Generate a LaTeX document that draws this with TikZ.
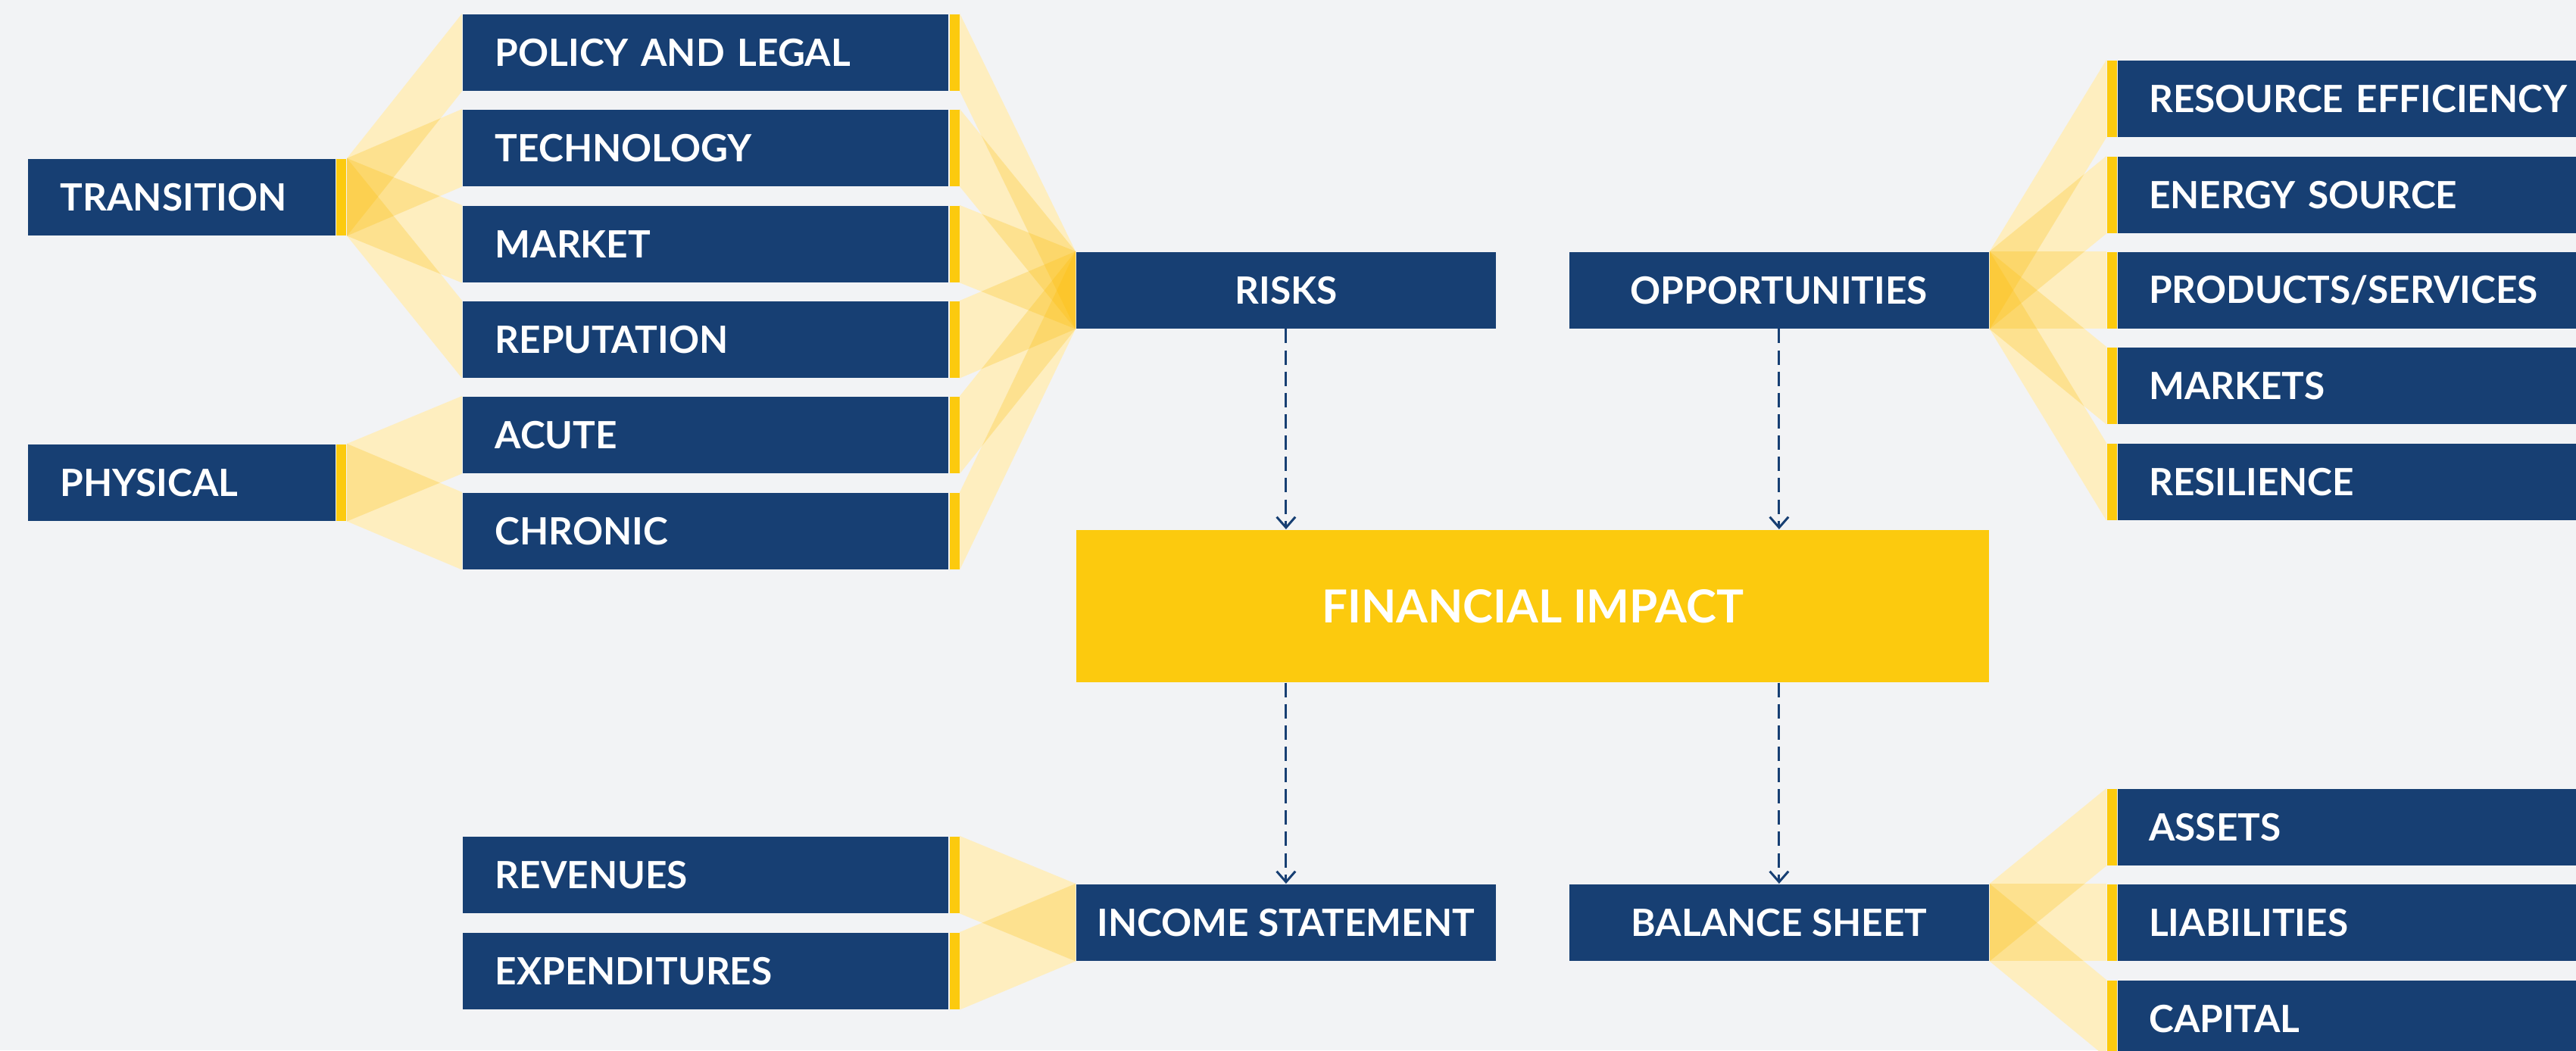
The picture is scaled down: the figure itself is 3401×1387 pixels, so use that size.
\documentclass[tikz,border=0pt]{standalone}
\usepackage{fontspec}
\setmainfont{Lato}
\usetikzlibrary{arrows.meta}
\definecolor{navy}{RGB}{23,63,115}
\definecolor{gold}{RGB}{252,202,14}
\definecolor{paper}{RGB}{242,243,245}
\definecolor{amber}{RGB}{252,188,0}

\begin{document}
\begin{tikzpicture}[x=0.01cm,y=-0.01cm,
  box/.style={fill=navy, text=white, font=\bfseries\fontsize{14.1}{17}\selectfont,
    inner ysep=0pt, minimum height=1.01cm, anchor=north west},
  lbox/.style={box, inner xsep=0.43cm, align=left, text width=#1},
  cbox/.style={box, inner xsep=0pt, align=center, minimum width=#1},
  stripe/.style={fill=gold, inner sep=0pt, minimum width=0.13cm,
    minimum height=1.01cm, anchor=north west},
  impact/.style={fill=gold, text=white, font=\bfseries\fontsize{17.1}{20}\selectfont,
    inner sep=0pt, minimum width=12.05cm, minimum height=2.01cm, anchor=north west},
  bandbase/.style={fill=white},
  bandtint/.style={fill=amber, fill opacity=0.25},
  flow/.style={navy, line width=0.85pt, dash pattern=on 5.4pt off 2.6pt,
    -{Straight Barb[length=4pt,width=7pt]}}
]
\useasboundingbox (0,0) rectangle (3401,1387);
\fill[paper] (0,0) rectangle (3401,1387);
\clip (0,0) rectangle (3401,1387);

% climate risk categories
\node[lbox=3.20cm] (transition) at (36,209) {TRANSITION};
\node[stripe] (transitionS) at (transition.north east) {};
\node[lbox=3.20cm] (physical) at (36,586) {PHYSICAL};
\node[stripe] (physicalS) at (physical.north east) {};

% risk types
\foreach \n/\y/\t in {policy/18/POLICY AND LEGAL, technology/144/TECHNOLOGY,
    market/271/MARKET, reputation/397/REPUTATION, acute/523/ACUTE,
    chronic/650/CHRONIC, revenues/1104/REVENUES, expenditures/1231/EXPENDITURES}{
  \node[lbox=5.55cm] (\n) at (610,\y) {\t};
  \node[stripe] (\n S) at (\n.north east) {};
}

% central column
\node[cbox=5.54cm] (risks) at (1420,332) {RISKS};
\node[cbox=5.54cm] (opportunities) at (2071,332) {OPPORTUNITIES};
\node[impact] (fi) at (1420,699) {FINANCIAL IMPACT};
\node[cbox=5.54cm] (income) at (1420,1167) {INCOME STATEMENT};
\node[cbox=5.54cm] (balance) at (2071,1167) {BALANCE SHEET};

% opportunity types and balance sheet items
\foreach \n/\y/\t in {resource/79/RESOURCE EFFICIENCY, energy/206/ENERGY SOURCE,
    products/332/{PRODUCTS/SERVICES}, markets/458/MARKETS, resilience/585/RESILIENCE,
    assets/1041/ASSETS, liabilities/1167/LIABILITIES, capital/1294/CAPITAL}{
  \node[stripe] (\n S) at (2781,\y) {};
  \node[lbox=6.14cm, inner xsep=0.41cm] (\n) at (\n S.north east) {\t};
}

% translucent fans between linked boxes
\def\bandlist{transitionS/policy, transitionS/technology, transitionS/market,
  transitionS/reputation, physicalS/acute, physicalS/chronic,
  policyS/risks, technologyS/risks, marketS/risks, reputationS/risks,
  acuteS/risks, chronicS/risks, revenuesS/income, expendituresS/income,
  opportunities/resourceS, opportunities/energyS, opportunities/productsS,
  opportunities/marketsS, opportunities/resilienceS,
  balance/assetsS, balance/liabilitiesS, balance/capitalS}
\foreach \a/\b in \bandlist{
  \fill[bandbase] (\a.north east) -- (\b.north west) -- (\b.south west) -- (\a.south east) -- cycle;
}
\foreach \a/\b in \bandlist{
  \fill[bandtint] (\a.north east) -- (\b.north west) -- (\b.south west) -- (\a.south east) -- cycle;
}

% flow into and out of the financial impact
\draw[flow] (risks.south) -- (risks.south |- fi.north);
\draw[flow] (opportunities.south) -- (opportunities.south |- fi.north);
\draw[flow] (fi.south -| income.north) -- (income.north);
\draw[flow] (fi.south -| balance.north) -- (balance.north);
\end{tikzpicture}
\end{document}
